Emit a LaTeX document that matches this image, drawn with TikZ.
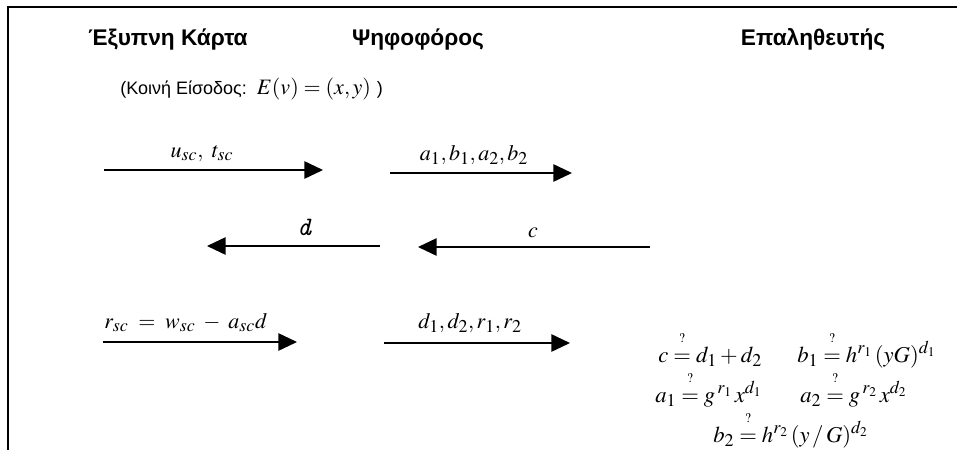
\documentclass[tikz,border=0pt]{standalone}
\usepackage{amsmath}
\usepackage{mathptmx}
\usepackage[no-math]{fontspec}
\setmainfont{Liberation Sans}
\usetikzlibrary{arrows.meta}

\DeclareMathSizes{16.5}{16.5}{13.5}{10}
\DeclareMathSizes{17}{17}{13.5}{10}
\newcommand{\qeq}{\mathrel{\overset{\raisebox{5pt}{$\scriptscriptstyle ?$}}{=}}}

\begin{document}
\begin{tikzpicture}[x=0.75pt,y=-0.75pt,
    msg/.style={line width=1.3pt,-{Triangle[length=14pt,width=13pt]}},
    role/.style={font=\bfseries\fontsize{17}{21}\selectfont,anchor=base,inner sep=0pt},
    lbl/.style={font=\fontsize{16.5}{20}\selectfont,anchor=base,inner sep=0pt},
    chk/.style={font=\fontsize{17}{20}\selectfont,anchor=base west,inner sep=0pt}]
  \useasboundingbox (0,0) rectangle (957,450);
  \draw[line width=1.5pt] (8,450) -- (8,7) -- (957,7);

  \node[role] (card) at (168,45) {Έξυπνη Κάρτα};
  \node[role] (voter) at (418,45) {Ψηφοφόρος};
  \node[role] (verifier) at (813,45) {Επαληθευτής};

  \node[lbl,anchor=base west,font=\fontsize{13.5}{16}\selectfont] (common) at (120,94)
    {(Κοινή Είσοδος:\ \ \fontsize{16.5}{20}\selectfont$E(v)=(x,y)$ \fontsize{13.5}{16}\selectfont)};

  \coordinate (s1) at (104,170);  \coordinate (e1) at (323,170);
  \coordinate (s2) at (390,173);  \coordinate (e2) at (572,173);
  \coordinate (s3) at (380,246);  \coordinate (e3) at (207,246);
  \coordinate (s4) at (650,247);  \coordinate (e4) at (418,247);
  \coordinate (s5) at (103,342);  \coordinate (e5) at (297,342);
  \coordinate (s6) at (384,343);  \coordinate (e6) at (570,343);

  \draw[msg] (s1) -- (e1);
  \draw[msg] (s2) -- (e2);
  \draw[msg] (s3) -- (e3);
  \draw[msg] (s4) -- (e4);
  \draw[msg] (s5) -- (e5);
  \draw[msg] (s6) -- (e6);

  \node[lbl] (m1) at (202,157) {$u_{sc},\ t_{sc}$};
  \node[lbl] (m2) at (474,160) {$a_1,b_1,a_2,b_2$};
  \node[lbl,font=\ttfamily\itshape\fontsize{20}{22}\selectfont] (m3) at (304,235) {d};
  \node[lbl] (m4) at (533,237) {$c$};
  \node[lbl,anchor=base west] (m5) at (104,328) {$r_{sc}\;=\;w_{sc}\;-\;a_{sc}d$};
  \node[lbl] (m6) at (470,328) {$d_1,d_2,r_1,r_2$};

  \node[chk] (q1) at (658,362) {$c\qeq d_1+d_2$};
  \node[chk] (q2) at (797,362) {$b_1\qeq h^{r_1}\,(yG)^{d_1}$};
  \node[chk] (q3) at (655,402) {$a_1\qeq g^{\,r_1}\,x^{d_1}$};
  \node[chk] (q4) at (800,402) {$a_2\qeq g^{\,r_2}\,x^{d_2}$};
  \node[chk] (q5) at (713,442) {$b_2\qeq h^{r_2}\,(y\,/\,G)^{d_2}$};
\end{tikzpicture}
\end{document}
